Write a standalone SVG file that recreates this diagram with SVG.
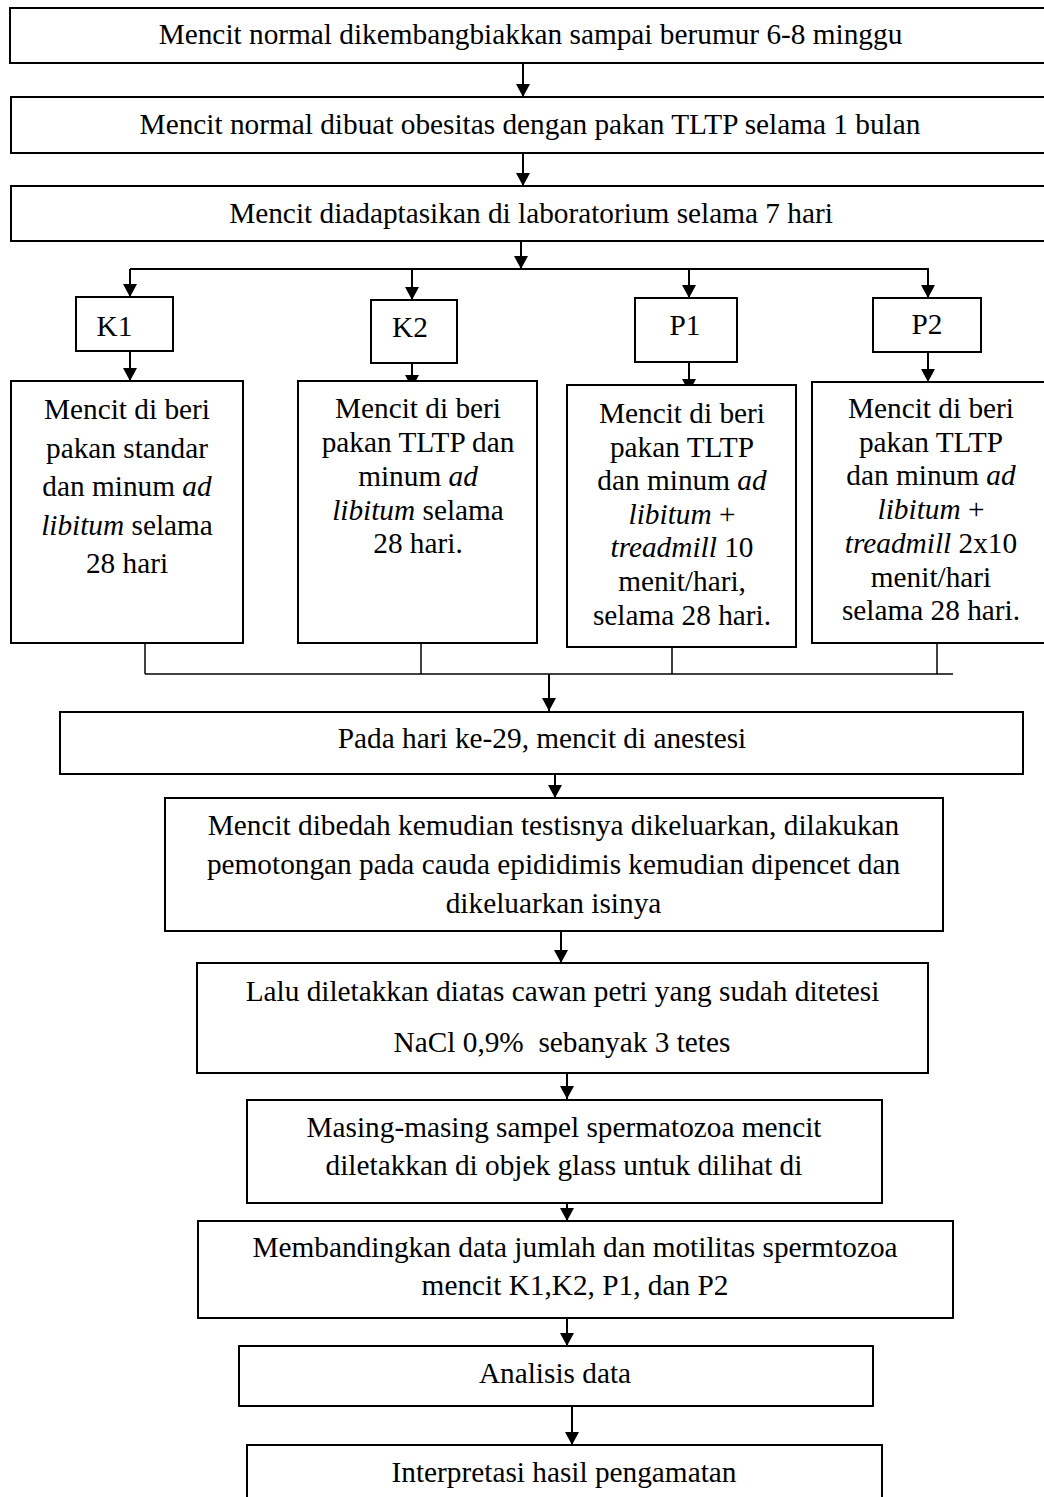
<svg xmlns="http://www.w3.org/2000/svg" width="1044" height="1497" viewBox="0 0 1044 1497">
<style>
  .box { fill: #ffffff; stroke: #000000; stroke-width: 2; }
  .t { font-family: "Liberation Serif", "Times New Roman", serif; font-size: 29.3px; fill: #000000; text-anchor: middle; }
  .i { font-style: italic; }
  .c { fill: none; stroke: #000000; stroke-width: 2; }
  .thin { fill: none; stroke: #000000; stroke-width: 1.5; }
  .arr { marker-end: url(#ah); }
</style>
<defs>
  <marker id="ah" viewBox="0 0 13 14" refX="13" refY="7" markerWidth="13" markerHeight="14" markerUnits="userSpaceOnUse" orient="auto">
    <path d="M0,0 L13,7 L0,14 z" fill="#000000"/>
  </marker>
</defs>
<rect width="1044" height="1497" fill="#ffffff"/>

<g id="connectors">
  <line class="c arr" x1="523" y1="63" x2="523" y2="97"/>
  <line class="c arr" x1="523" y1="153" x2="523" y2="186"/>
  <line class="c arr" x1="521" y1="241" x2="521" y2="269"/>
  <line class="c" x1="130" y1="269" x2="929" y2="269"/>
  <line class="c arr" x1="130" y1="269" x2="130" y2="297"/>
  <line class="c arr" x1="412" y1="269" x2="412" y2="300"/>
  <line class="c arr" x1="689" y1="269" x2="689" y2="298"/>
  <line class="c arr" x1="928" y1="269" x2="928" y2="298"/>
  <line class="c arr" x1="130" y1="351" x2="130" y2="381"/>
  <line class="c arr" x1="412" y1="363" x2="412" y2="388"/>
  <line class="c arr" x1="689" y1="362" x2="689" y2="392"/>
  <line class="c arr" x1="928" y1="352" x2="928" y2="382"/>
  <line class="thin" x1="145" y1="637" x2="145" y2="674"/>
  <line class="thin" x1="421" y1="642" x2="421" y2="674"/>
  <line class="thin" x1="672" y1="632" x2="672" y2="674"/>
  <line class="thin" x1="937" y1="633" x2="937" y2="674"/>
  <line class="thin" x1="145" y1="674" x2="953" y2="674"/>
  <line class="c arr" x1="549" y1="674" x2="549" y2="711"/>
  <line class="c arr" x1="555" y1="774" x2="555" y2="798"/>
  <line class="c arr" x1="561" y1="928" x2="561" y2="963"/>
  <line class="c arr" x1="567" y1="1054" x2="567" y2="1099"/>
  <line class="c arr" x1="567" y1="1203" x2="567" y2="1221"/>
  <line class="c arr" x1="567" y1="1318" x2="567" y2="1346"/>
  <line class="c arr" x1="572" y1="1406" x2="572" y2="1445"/>
</g>

<g id="n1">
  <rect class="box" x="10" y="8" width="1045" height="55"/>
  <text class="t" x="530.5" y="44">Mencit normal dikembangbiakkan sampai berumur 6-8 minggu</text>
</g>
<g id="n2">
  <rect class="box" x="11" y="97" width="1044" height="56"/>
  <text class="t" x="530" y="134">Mencit normal dibuat obesitas dengan pakan TLTP selama 1 bulan</text>
</g>
<g id="n3">
  <rect class="box" x="11" y="186" width="1044" height="55"/>
  <text class="t" x="531" y="223">Mencit diadaptasikan di laboratorium selama 7 hari</text>
</g>

<g id="k1">
  <rect class="box" x="76" y="297" width="97" height="54"/>
  <text class="t" x="114.5" y="336">K1</text>
</g>
<g id="k2">
  <rect class="box" x="371" y="300" width="86" height="63"/>
  <text class="t" x="410" y="337">K2</text>
</g>
<g id="p1">
  <rect class="box" x="635" y="298" width="102" height="64"/>
  <text class="t" x="685" y="335">P1</text>
</g>
<g id="p2">
  <rect class="box" x="873" y="298" width="108" height="54"/>
  <text class="t" x="927" y="334">P2</text>
</g>

<g id="k1-detail">
  <rect class="box" x="11" y="381" width="232" height="262"/>
  <text class="t" x="127" y="419">Mencit di beri</text>
  <text class="t" x="127" y="457.5">pakan standar</text>
  <text class="t" x="127" y="496">dan minum <tspan class="i">ad</tspan></text>
  <text class="t" x="127" y="534.5"><tspan class="i">libitum</tspan> selama</text>
  <text class="t" x="127" y="573">28 hari</text>
</g>
<g id="k2-detail">
  <rect class="box" x="298" y="381" width="239" height="262"/>
  <text class="t" x="418" y="418">Mencit di beri</text>
  <text class="t" x="418" y="452">pakan TLTP dan</text>
  <text class="t" x="418" y="486">minum <tspan class="i">ad</tspan></text>
  <text class="t" x="418" y="519.5"><tspan class="i">libitum</tspan> selama</text>
  <text class="t" x="418" y="553">28 hari.</text>
</g>
<g id="p1-detail">
  <rect class="box" x="567" y="385" width="229" height="262"/>
  <text class="t" x="682" y="423">Mencit di beri</text>
  <text class="t" x="682" y="456.6">pakan TLTP</text>
  <text class="t" x="682" y="490.2">dan minum <tspan class="i">ad</tspan></text>
  <text class="t" x="682" y="523.8"><tspan class="i">libitum</tspan> +</text>
  <text class="t" x="682" y="557.4"><tspan class="i">treadmill</tspan> 10</text>
  <text class="t" x="682" y="591">menit/hari,</text>
  <text class="t" x="682" y="624.6">selama 28 hari.</text>
</g>
<g id="p2-detail">
  <rect class="box" x="812" y="382" width="240" height="261"/>
  <text class="t" x="931" y="418">Mencit di beri</text>
  <text class="t" x="931" y="451.7">pakan TLTP</text>
  <text class="t" x="931" y="485.4">dan minum <tspan class="i">ad</tspan></text>
  <text class="t" x="931" y="519.1"><tspan class="i">libitum</tspan> +</text>
  <text class="t" x="931" y="552.8"><tspan class="i">treadmill</tspan> 2x10</text>
  <text class="t" x="931" y="586.5">menit/hari</text>
  <text class="t" x="931" y="620.2">selama 28 hari.</text>
</g>

<g id="n4">
  <rect class="box" x="60" y="712" width="963" height="62"/>
  <text class="t" x="542" y="748">Pada hari ke-29, mencit di anestesi</text>
</g>
<g id="n5">
  <rect class="box" x="165" y="798" width="778" height="133"/>
  <text class="t" x="553.5" y="835">Mencit dibedah kemudian testisnya dikeluarkan, dilakukan</text>
  <text class="t" x="553.5" y="874">pemotongan pada cauda epididimis kemudian dipencet dan</text>
  <text class="t" x="553.5" y="913">dikeluarkan isinya</text>
</g>
<g id="n6">
  <rect class="box" x="197" y="963" width="731" height="110"/>
  <text class="t" x="562.5" y="1001">Lalu diletakkan diatas cawan petri yang sudah ditetesi</text>
  <text class="t" x="562" y="1052" xml:space="preserve">NaCl 0,9%  sebanyak 3 tetes</text>
</g>
<g id="n7">
  <rect class="box" x="247" y="1100" width="635" height="103"/>
  <text class="t" x="564" y="1137">Masing-masing sampel spermatozoa mencit</text>
  <text class="t" x="564" y="1175">diletakkan di objek glass untuk dilihat di</text>
</g>
<g id="n8">
  <rect class="box" x="198" y="1221" width="755" height="97"/>
  <text class="t" x="575" y="1257">Membandingkan data jumlah dan motilitas spermtozoa</text>
  <text class="t" x="575" y="1295">mencit K1,K2, P1, dan P2</text>
</g>
<g id="n9">
  <rect class="box" x="239" y="1346" width="634" height="60"/>
  <text class="t" x="555" y="1383">Analisis data</text>
</g>
<g id="n10">
  <rect class="box" x="247" y="1445" width="635" height="70"/>
  <text class="t" x="564" y="1482">Interpretasi hasil pengamatan</text>
</g>
</svg>
